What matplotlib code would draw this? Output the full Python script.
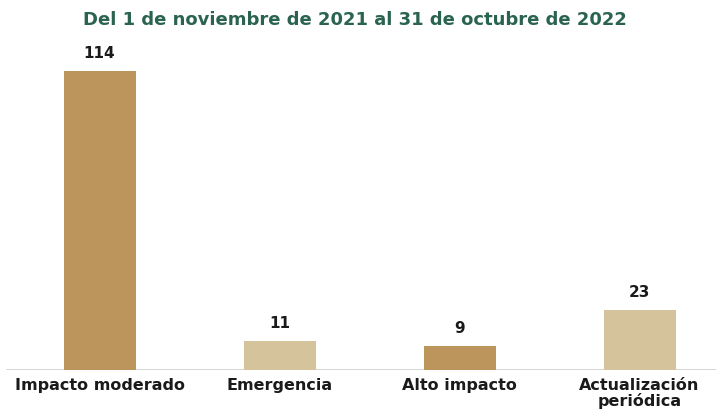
import matplotlib
matplotlib.use("Agg")
import matplotlib.pyplot as plt

categories = ["Impacto moderado", "Emergencia", "Alto impacto", "Actualización\nperiódica"]
values = [114, 11, 9, 23]
title = "Del 1 de noviembre de 2021 al 31 de octubre de 2022"

DARK = "#BB955C"
LIGHT = "#D4C39B"
GREEN = "#2A6350"
colors = [DARK, LIGHT, DARK, LIGHT]

plt.rcParams["font.family"] = ["DejaVu Sans"]

fig = plt.figure(figsize=(7.16, 4.16), dpi=100)
ax = fig.add_axes([0.0, 46 / 416, 1.0, 341 / 416])

x = list(range(len(categories)))
ax.bar(x, values, width=0.4, color=colors, zorder=2)
for xi, v in zip(x, values):
    ax.text(xi, v + 3.8, str(v), ha="center", va="bottom",
            fontsize=11, fontweight="bold", color="#1a1a1a")

ax.set_xlim(-0.553, 3.425)
ax.set_ylim(0, 130)
ax.axhline(0, xmin=7 / 716, xmax=1, color="#d0d0d0", lw=1.2, zorder=1)

for side in ["top", "right", "left", "bottom"]:
    ax.spines[side].set_visible(False)
ax.set_yticks([])
ax.set_xticks(x)
ax.set_xticklabels(categories, fontsize=11.5, fontweight="bold",
                   color="#1a1a1a", linespacing=1.0)
ax.tick_params(axis="x", length=0, pad=6)

fig.text(0.496, 0.953, title, ha="center", va="center",
         fontsize=13, fontweight="bold", color=GREEN)

fig.savefig("out.png", dpi=100)
